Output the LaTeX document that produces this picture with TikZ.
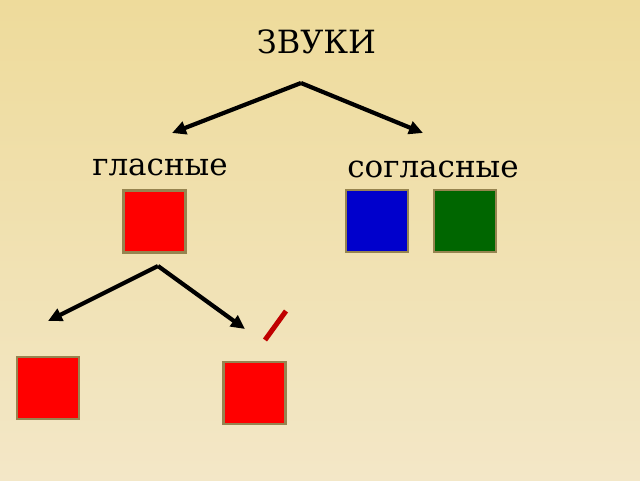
\documentclass[tikz,border=0pt]{standalone}
\usepackage{fontspec}
\setmainfont{DejaVu Serif}
\usetikzlibrary{arrows.meta}

\definecolor{bgtop}{HTML}{EEDB9B}
\definecolor{bgbottom}{HTML}{F3E7C7}
\definecolor{rim}{HTML}{968450}
\definecolor{soundred}{HTML}{FF0000}
\definecolor{soundblue}{HTML}{0000CC}
\definecolor{soundgreen}{HTML}{006600}
\definecolor{softmark}{HTML}{C00000}

\tikzset{
    soundbox/.style={draw=rim, line width=2.2pt, minimum size=62pt, inner sep=0pt},
    branch/.style={line width=4.2pt, -{Triangle[length=14pt,width=13pt]}},
    word/.style={anchor=base, inner sep=0pt, font=\fontsize{31}{37}\selectfont}
}

\begin{document}
\begin{tikzpicture}[x=1pt, y=-1pt]
% background
\shade[top color=bgtop, bottom color=bgbottom] (0,0) rectangle (640,480);
\useasboundingbox (0,0) rectangle (640,480);

% headings
\node[word, font=\fontsize{32}{38}\selectfont] (zvuki) at (316.5,53) {ЗВУКИ};
\node[word] (glasnye) at (160,175) {гласные};
\node[word] (soglasnye) at (433,177) {согласные};

% first split
\coordinate (topfork) at (301,83);
\coordinate (leftend) at (172,133);
\coordinate (rightend) at (423,133);
\draw[branch] (topfork) -- (leftend);
\draw[branch] (topfork) -- (rightend);

% sound boxes
\node[soundbox, fill=soundred] (vowel) at (154.5,221.5) {};
\node[soundbox, fill=soundblue] (hard) at (377,221) {};
\node[soundbox, fill=soundgreen] (soft) at (465,221) {};

% second split
\coordinate (lowfork) at (158,266);
\coordinate (lowleft) at (48,321);
\coordinate (lowright) at (245,329);
\draw[branch] (lowfork) -- (lowleft);
\draw[branch] (lowfork) -- (lowright);

\node[soundbox, fill=soundred] (vowelA) at (48,388) {};
\node[soundbox, fill=soundred] (vowelB) at (254.5,393) {};

% mark
\coordinate (markA) at (265,340);
\coordinate (markB) at (286,311);
\draw[softmark, line width=5pt] (markA) -- (markB);
\end{tikzpicture}
\end{document}
